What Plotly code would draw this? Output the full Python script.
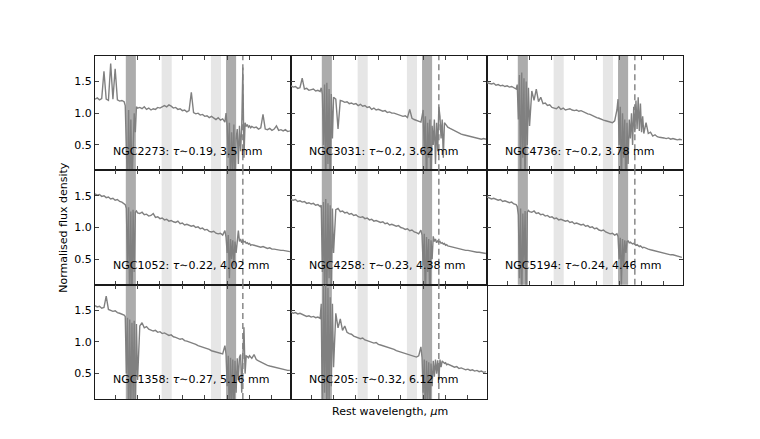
import plotly.graph_objects as go
from plotly.subplots import make_subplots

# ---------------- data ----------------
GALAXIES = ["NGC2273", "NGC3031", "NGC4736", "NGC1052", "NGC4258", "NGC5194", "NGC1358", "NGC205"]
TAU = [0.19, 0.2, 0.2, 0.22, 0.23, 0.24, 0.27, 0.32]
PWV_MM = [3.5, 3.62, 3.78, 4.02, 4.38, 4.46, 5.16, 6.12]

# rest wavelength grid (micron)
WAVE = [0.82, 0.84, 0.86, 0.88, 0.90, 0.92, 0.94, 0.96, 0.98, 1.00, 1.02, 1.04, 1.06, 1.08,
        1.09, 1.10, 1.11, 1.12, 1.13, 1.14, 1.15, 1.16, 1.17, 1.18, 1.19, 1.20,
        1.22, 1.24, 1.26, 1.28, 1.30, 1.32, 1.34, 1.36, 1.38, 1.40, 1.42, 1.44, 1.46, 1.48,
        1.50, 1.52, 1.54, 1.56, 1.58, 1.60, 1.62, 1.64, 1.66, 1.68, 1.70, 1.72, 1.74, 1.76,
        1.78, 1.80, 1.82, 1.84, 1.86, 1.88, 1.90, 1.92, 1.94, 1.96, 1.98,
        1.99, 2.00, 2.01, 2.02, 2.03, 2.04, 2.05, 2.06, 2.07, 2.08, 2.09, 2.10, 2.11, 2.12,
        2.13, 2.14, 2.15, 2.16, 2.17, 2.18, 2.19, 2.20, 2.21, 2.22,
        2.24, 2.26, 2.28, 2.30, 2.32, 2.34, 2.36, 2.38, 2.40, 2.42, 2.44, 2.46, 2.48, 2.50,
        2.52, 2.54, 2.56]

FLUX_NGC2273 = [1.22, 1.24, 1.21, 1.23, 1.66, 1.22, 1.20, 1.78, 1.22, 1.70, 1.21, 1.19, 1.20, 1.18,
                1.12, 0.6, -0.2, 1.05, -0.3, 0.9, -0.1, 0.4, 1.0, 0.7, 1.1, 1.08,
                1.09, 1.07, 1.10, 1.06, 1.08, 1.05, 1.07, 1.06, 1.09, 1.08, 1.10, 1.12, 1.10, 1.13,
                1.11, 1.08, 1.09, 1.06, 1.07, 1.04, 1.05, 1.02, 1.04, 1.33, 1.01, 0.99, 1.00, 0.97,
                0.98, 0.95, 0.96, 0.93, 0.95, 0.92, 0.90, 0.93, 0.89, 0.91, 0.86,
                1.00, 0.80, 0.3, 0.85, -0.2, 0.7, 0.1, 0.82, -0.3, 0.6, 0.75, 0.2, 0.80, 0.4,
                0.78, 1.72, 0.3, 0.85, 0.79, 0.82, 0.78, 0.80, 0.77, 0.79,
                0.77, 0.78, 0.75, 0.77, 0.98, 0.75, 0.74, 0.76, 0.73, 0.75, 0.80, 0.73, 0.74, 0.72,
                0.74, 0.71, 0.72]

FLUX_NGC3031 = [1.43, 1.41, 1.42, 1.39, 1.40, 1.55, 1.38, 1.39, 1.36, 1.37, 1.38, 1.35, 1.36, 1.34,
                1.40, 1.30, 0.5, 1.45, -0.2, 1.48, 0.2, 1.38, -0.3, 1.30, 0.6, 1.25,
                1.22, 0.75, 1.20, 1.19, 1.17, 1.18, 1.15, 1.16, 1.14, 1.15, 1.12, 1.14, 1.11, 1.12,
                1.09, 1.10, 1.06, 1.08, 1.05, 1.06, 1.04, 1.03, 1.04, 1.01, 1.02, 1.00, 1.00, 0.99,
                0.98, 0.97, 0.95, 0.96, 0.93, 1.06, 0.92, 0.90, 0.89, 0.88, 0.86,
                0.95, 1.05, 0.4, 0.95, -0.2, 0.85, 0.3, 0.9, -0.3, 0.8, 0.5, 0.9, 0.2, 0.85,
                0.4, 1.10, 0.95, 0.6, 0.90, 0.3, 0.85, 0.82, 0.80, 0.78,
                0.76, 0.74, 0.72, 0.70, 0.69, 0.67, 0.66, 0.65, 0.64, 0.63, 0.62, 0.61, 0.61, 0.60,
                0.59, 0.60, 0.59]

FLUX_NGC4736 = [1.48, 1.47, 1.46, 1.47, 1.44, 1.45, 1.43, 1.44, 1.42, 1.43, 1.41, 1.42, 1.40, 1.38,
                1.45, 0.9, 1.60, -0.2, 1.64, 0.3, 1.55, -0.3, 1.50, 0.5, 1.40, 0.8,
                1.35, 1.20, 1.38, 1.18, 1.25, 1.15, 1.16, 1.12, 1.13, 1.09, 1.08, 1.07, 1.10, 1.06,
                1.08, 1.05, 1.06, 1.07, 1.05, 1.04, 1.05, 1.03, 1.04, 1.02, 1.01, 0.99, 0.98, 0.96,
                0.95, 0.93, 0.92, 0.90, 0.89, 0.88, 0.87, 0.86, 0.85, 0.88, 1.05,
                1.22, 0.5, 1.10, -0.2, 1.0, 0.3, 0.9, -0.3, 0.85, 0.2, 0.9, 0.6, 1.0, 0.5,
                1.1, 0.7, 1.20, 0.75, 1.25, 0.72, 1.15, 0.70, 0.95, 0.68,
                0.85, 0.68, 0.70, 0.64, 0.66, 0.63, 0.62, 0.62, 0.61, 0.60, 0.61, 0.59, 0.60, 0.59,
                0.58, 0.59, 0.58]

FLUX_NGC1052 = [1.53, 1.51, 1.52, 1.49, 1.50, 1.47, 1.48, 1.45, 1.46, 1.43, 1.44, 1.41, 1.40, 1.38,
                1.36, 1.30, 0.4, 1.32, -0.3, 1.25, -0.2, 1.28, 0.3, 1.24, 1.26, 1.23,
                1.22, 1.24, 1.20, 1.21, 1.18, 1.19, 1.22, 1.16, 1.17, 1.14, 1.15, 1.12, 1.13, 1.10,
                1.11, 1.09, 1.08, 1.10, 1.06, 1.07, 1.04, 1.05, 1.03, 1.02, 1.03, 1.00, 1.01, 0.98,
                0.99, 0.96, 0.97, 0.94, 0.93, 0.94, 0.91, 0.90, 0.91, 0.88, 0.95,
                0.85, 0.6, 0.88, 0.2, 0.82, 0.5, 0.80, 0.4, 0.78, 0.6, 0.84, 0.95, 0.78, 0.82,
                0.76, 0.80, 0.77, 0.78, 0.75, 0.76, 0.74, 0.75, 0.72, 0.73,
                0.72, 0.71, 0.70, 0.69, 0.70, 0.68, 0.67, 0.68, 0.66, 0.66, 0.65, 0.65, 0.64, 0.64,
                0.63, 0.63, 0.62]

FLUX_NGC4258 = [1.44, 1.43, 1.44, 1.41, 1.42, 1.40, 1.41, 1.38, 1.39, 1.37, 1.38, 1.35, 1.36, 1.33,
                1.35, 0.3, 1.40, -0.3, 1.45, -0.2, 1.38, 0.2, 1.35, -0.3, 1.30, 0.6,
                1.28, 1.30, 1.25, 1.26, 1.23, 1.24, 1.21, 1.22, 1.19, 1.20, 1.17, 1.16, 1.17, 1.14,
                1.15, 1.12, 1.13, 1.10, 1.11, 1.09, 1.08, 1.09, 1.06, 1.07, 1.04, 1.05, 1.03, 1.02,
                1.03, 1.00, 0.99, 0.97, 0.98, 0.95, 0.96, 0.93, 0.92, 0.90, 0.96,
                0.88, 0.4, 0.90, -0.2, 0.85, 0.3, 0.82, -0.3, 0.80, 0.5, 0.86, 0.78, 0.82, 0.76,
                0.79, 0.77, 0.78, 0.75, 0.76, 0.74, 0.75, 0.72, 0.73, 0.71,
                0.70, 0.69, 0.68, 0.67, 0.67, 0.66, 0.65, 0.64, 0.64, 0.63, 0.62, 0.62, 0.61, 0.61,
                0.60, 0.60, 0.59]

FLUX_NGC5194 = [1.48, 1.47, 1.45, 1.46, 1.44, 1.43, 1.44, 1.41, 1.42, 1.40, 1.39, 1.40, 1.37, 1.36,
                1.33, 1.20, 0.2, 1.30, -0.3, 1.22, 0.4, 1.26, -0.2, 1.24, 1.27, 1.25,
                1.24, 1.26, 1.22, 1.23, 1.20, 1.21, 1.18, 1.19, 1.16, 1.17, 1.14, 1.15, 1.12, 1.13,
                1.11, 1.10, 1.11, 1.08, 1.09, 1.06, 1.07, 1.05, 1.04, 1.05, 1.02, 1.03, 1.00, 1.01,
                0.98, 0.99, 0.96, 0.95, 0.96, 0.93, 0.92, 0.90, 0.91, 0.88, 0.90,
                0.86, 0.5, 0.84, 0.1, 0.82, 0.4, 0.80, 0.6, 0.78, 0.79, 0.76, 0.77, 0.75, 0.74,
                0.75, 0.73, 0.72, 0.73, 0.71, 0.70, 0.71, 0.69, 0.68, 0.69,
                0.67, 0.66, 0.65, 0.64, 0.63, 0.62, 0.62, 0.60, 0.60, 0.59, 0.58, 0.57, 0.57, 0.56,
                0.55, 0.54, 0.53]

FLUX_NGC1358 = [1.57, 1.55, 1.56, 1.53, 1.54, 1.72, 1.51, 1.50, 1.48, 1.49, 1.46, 1.45, 1.44, 1.42,
                1.40, 0.5, 1.38, -0.3, 1.35, -0.2, 1.30, 0.1, 1.33, -0.3, 1.28, 0.4,
                1.25, 1.30, 1.22, 1.24, 1.20, 1.19, 1.17, 1.18, 1.15, 1.16, 1.13, 1.14, 1.12, 1.10,
                1.11, 1.08, 1.07, 1.06, 1.04, 1.05, 1.02, 1.01, 1.00, 0.98, 0.97, 0.96, 0.94, 0.93,
                0.92, 0.90, 0.89, 0.88, 0.86, 0.85, 0.84, 0.83, 0.82, 0.81, 0.94,
                0.80, 0.3, 0.78, -0.3, 0.75, 0.0, 0.72, -0.2, 0.70, 0.2, 0.74, 0.4, 0.76, 0.80,
                0.2, 0.79, 1.23, 0.5, 0.78, 0.77, 0.75, 0.78, 0.76, 0.74,
                0.80, 0.72, 0.70, 0.68, 0.66, 0.65, 0.63, 0.62, 0.61, 0.60, 0.59, 0.58, 0.57, 0.57,
                0.56, 0.55, 0.55]

FLUX_NGC205 = [1.47, 1.45, 1.46, 1.44, 1.45, 1.43, 1.42, 1.40, 1.41, 1.39, 1.40, 1.38, 1.39, 1.37,
               1.6, -0.3, 2.0, 0.2, 1.95, -0.3, 1.85, 0.0, 1.70, 0.3, 1.60, 0.6,
               1.45, 1.22, 1.36, 1.18, 1.25, 1.15, 1.13, 1.12, 1.09, 1.08, 1.06, 1.05, 1.06, 1.03,
               1.02, 1.01, 1.00, 0.98, 0.99, 0.96, 0.95, 0.94, 0.93, 0.92, 0.90, 0.89, 0.88, 0.86,
               0.85, 0.84, 0.83, 0.81, 0.80, 0.79, 0.78, 0.77, 0.76, 0.78, 0.92,
               0.75, 0.2, 0.72, -0.3, 0.70, 0.1, 0.68, -0.2, 0.66, 0.3, 0.70, 0.45, 0.72, 0.5,
               0.71, 0.4, 0.72, 0.60, 0.70, 0.68, 0.66, 0.67, 0.64, 0.65,
               0.63, 0.62, 0.60, 0.61, 0.58, 0.59, 0.57, 0.56, 0.57, 0.55, 0.56, 0.54, 0.55, 0.53,
               0.54, 0.52, 0.53]

FLUXES = [FLUX_NGC2273, FLUX_NGC3031, FLUX_NGC4736, FLUX_NGC1052,
          FLUX_NGC4258, FLUX_NGC5194, FLUX_NGC1358, FLUX_NGC205]

DARK_BANDS = [(1.095, 1.185), (1.99, 2.08)]
LIGHT_BANDS = [(1.415, 1.505), (1.855, 1.945)]
DASHED_WAVE = 2.14

X_RANGE = [0.82, 2.57]
Y_RANGE = [0.1, 1.9]
X_TICKS = [1.0, 1.2, 1.4, 1.6, 1.8, 2.0, 2.2, 2.4]
Y_TICKS = [0.5, 1.0, 1.5]
Y_TICKTEXT = ["0.5", "1.0", "1.5"]

# ---------------- figure ----------------
FONT = "DejaVu Sans"
LINE_GREY = "#808080"

fig = make_subplots(rows=3, cols=3, horizontal_spacing=0, vertical_spacing=0)

for i, (name, flux) in enumerate(zip(GALAXIES, FLUXES)):
    assert len(flux) == len(WAVE), (name, len(flux), len(WAVE))
    r, c = i // 3 + 1, i % 3 + 1
    fig.add_trace(go.Scatter(x=WAVE, y=flux, mode="lines",
                             line=dict(color=LINE_GREY, width=1.4),
                             showlegend=False, hoverinfo="skip"), row=r, col=c)
    for x0, x1 in LIGHT_BANDS:
        fig.add_vrect(x0=x0, x1=x1, fillcolor="#e6e6e6", opacity=1, line_width=0,
                      layer="below", row=r, col=c, exclude_empty_subplots=False)
    for x0, x1 in DARK_BANDS:
        fig.add_vrect(x0=x0, x1=x1, fillcolor="#acacac", opacity=1, line_width=0,
                      layer="below", row=r, col=c, exclude_empty_subplots=False)
    fig.add_vline(x=DASHED_WAVE, line_dash="6px,4px", line_color=LINE_GREY, line_width=1.4,
                  row=r, col=c, exclude_empty_subplots=False)
    fig.add_annotation(x=0.96, y=0.40, xref=f"x{'' if i == 0 else i + 1}",
                       yref=f"y{'' if i == 0 else i + 1}",
                       text=f"{name}: <i>τ</i>∼{TAU[i]}, {PWV_MM[i]} mm",
                       showarrow=False, xanchor="left", yanchor="middle",
                       font=dict(family=FONT, size=11, color="#000000"))

axis_common = dict(showline=True, linecolor="#1a1a1a", linewidth=1.1, mirror="ticks",
                   ticks="inside", ticklen=4, tickwidth=1, tickcolor="#444444",
                   showgrid=False, zeroline=False,
                   tickfont=dict(family=FONT, size=11, color="#000000"))

for i in range(9):
    r, c = i // 3 + 1, i % 3 + 1
    if i == 8:
        fig.update_xaxes(visible=False, row=r, col=c)
        fig.update_yaxes(visible=False, row=r, col=c)
        continue
    fig.update_xaxes(range=X_RANGE, tickvals=X_TICKS, showticklabels=False,
                     row=r, col=c, **axis_common)
    fig.update_yaxes(range=Y_RANGE, tickvals=Y_TICKS, ticktext=Y_TICKTEXT,
                     showticklabels=(c == 1), row=r, col=c, **axis_common)

fig.add_annotation(text="Normalised flux density", xref="paper", yref="paper",
                   x=-0.054, y=0.5, textangle=-90, showarrow=False,
                   xanchor="center", yanchor="middle",
                   font=dict(family=FONT, size=11, color="#000000"))
fig.add_annotation(text="Rest wavelength, <i>μ</i>m", xref="paper", yref="paper",
                   x=0.502, y=-0.035, showarrow=False,
                   xanchor="center", yanchor="middle",
                   font=dict(family=FONT, size=11, color="#000000"))

fig.update_layout(width=760, height=439,
                  margin=dict(l=95, r=77, t=56, b=40),
                  paper_bgcolor="white", plot_bgcolor="white",
                  showlegend=False, hovermode=False)

fig.write_html("out.html", config={"displayModeBar": False, "staticPlot": True},
               post_script="document.body.style.margin='0';document.body.style.overflow='hidden';")
